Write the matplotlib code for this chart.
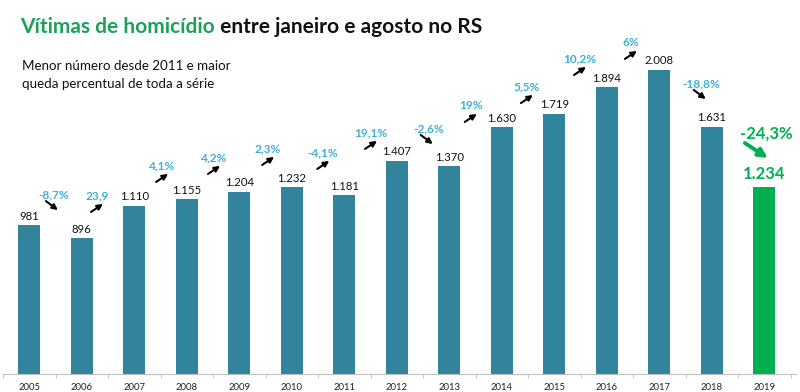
import numpy as np
import matplotlib.pyplot as plt

# data
years = ['2005', '2006', '2007', '2008', '2009', '2010', '2011', '2012',
         '2013', '2014', '2015', '2016', '2017', '2018', '2019']
victims = [981, 896, 1110, 1155, 1204, 1232, 1181, 1407, 1370, 1630,
           1719, 1894, 2008, 1631, 1234]
value_labels = ['981', '896', '1.110', '1.155', '1.204', '1.232', '1.181', '1.407',
                '1.370', '1.630', '1.719', '1.894', '2.008', '1.631', '1.234']
pct_labels = ['-8,7%', '23,9', '4,1%', '4,2%', '2,3%', '-4,1%', '19,1%',
              '-2,6%', '19%', '5,5%', '10,2%', '6%', '-18,8%']
pct_up = [False, True, True, True, True, True, True, False, True, True, True, True, False]
last_pct = '-24,3%'

# layout of the percent labels (data coords)
pct_x = [0.47, 1.29, 2.53, 3.52, 4.55, 5.60, 6.51, 7.61, 8.41, 9.48, 10.49, 11.46, 12.81]
pct_y = [1181, 1175, 1373, 1426, 1485, 1459, 1591, 1617, 1769, 1894, 2079, 2185, 1914]

TEAL = '#31849B'
GREEN = '#00B050'
BLUE = '#3FB0D8'
FONT = 'Lato'

PX_X = 1 / 52.5   # data units per pixel (x)
PX_Y = 6.6        # data units per pixel (y)

fig = plt.figure(figsize=(8, 3.92), dpi=100)
ax = fig.add_axes([3 / 800, 18 / 392, 787.5 / 800, 374 / 392])

x = np.arange(len(years))
colors = [TEAL] * (len(years) - 1) + [GREEN]
ax.bar(x, victims, width=0.41, color=colors)

ax.set_xlim(-0.5, len(years) - 0.5)
ax.set_ylim(0, 374 * PX_Y)

for s in ['top', 'right', 'left']:
    ax.spines[s].set_visible(False)
ax.spines['bottom'].set_color('#BFBFBF')
ax.spines['bottom'].set_bounds(-0.5, len(years) - 0.4)
ax.set_yticks([])
ax.set_xticks(x)
ax.set_xticklabels(years, fontsize=6.8, family=FONT, color='#222222')
ax.set_xticks(np.arange(-0.5, len(years)), minor=True)
ax.tick_params(axis='x', which='major', length=0, pad=6.5)
ax.tick_params(axis='x', which='minor', length=3, color='#BFBFBF')

# value labels
for i, (v, lab) in enumerate(zip(victims[:-1], value_labels[:-1])):
    ax.text(i, v + 9 * PX_Y, lab, ha='center', va='center', fontsize=8.2,
            family=FONT, color='#111111')
ax.text(14, victims[-1] + 13 * PX_Y, value_labels[-1], ha='center', va='center',
        fontsize=12, family=FONT, fontweight='bold', color=GREEN)

# percent changes with arrows
for px, py, lab, up in zip(pct_x, pct_y, pct_labels, pct_up):
    ax.text(px, py, lab, ha='center', va='center', fontsize=8.6, family=FONT,
            fontweight='bold', color=BLUE)
    if up:
        start = (px - 6 * PX_X, py - 16 * PX_Y)
        end = (px + 6 * PX_X, py - 8 * PX_Y)
    else:
        start = (px - 8 * PX_X, py - 6 * PX_Y)
        end = (px + 4 * PX_X, py - 15 * PX_Y)
    ax.annotate('', xy=end, xytext=start,
                arrowprops=dict(arrowstyle='-|>', color='black', lw=1.5,
                                mutation_scale=8, shrinkA=0, shrinkB=0))

# highlight of last year
lx, ly = 14.03, 1584
ax.text(lx, ly, last_pct, ha='center', va='center', fontsize=12, family=FONT,
        fontweight='bold', color=GREEN)
ax.annotate('', xy=(lx + 2 * PX_X, ly - 24 * PX_Y), xytext=(lx - 21 * PX_X, ly - 9 * PX_Y),
            arrowprops=dict(arrowstyle='-|>', color=GREEN, lw=2.8,
                            mutation_scale=13, shrinkA=0, shrinkB=0))

# title in two colours
t1 = fig.text(20 / 800, 1 - 27 / 392, 'Vítimas de homicídio', fontsize=15,
              family=FONT, fontweight='bold', color='#1FA05A', va='center', ha='left')
ax.annotate(' entre janeiro e agosto no RS', xy=(1, 0.5), xycoords=t1,
            va='center', ha='left', fontsize=15, family=FONT, fontweight='bold',
            color='#111111')

fig.text(22 / 800, 1 - 66 / 392, 'Menor número desde 2011 e maior', fontsize=9.6,
         family=FONT, color='#111111', va='center')
fig.text(22 / 800, 1 - 84 / 392, 'queda percentual de toda a série', fontsize=9.6,
         family=FONT, color='#111111', va='center')

fig.savefig('out.png', dpi=100)
